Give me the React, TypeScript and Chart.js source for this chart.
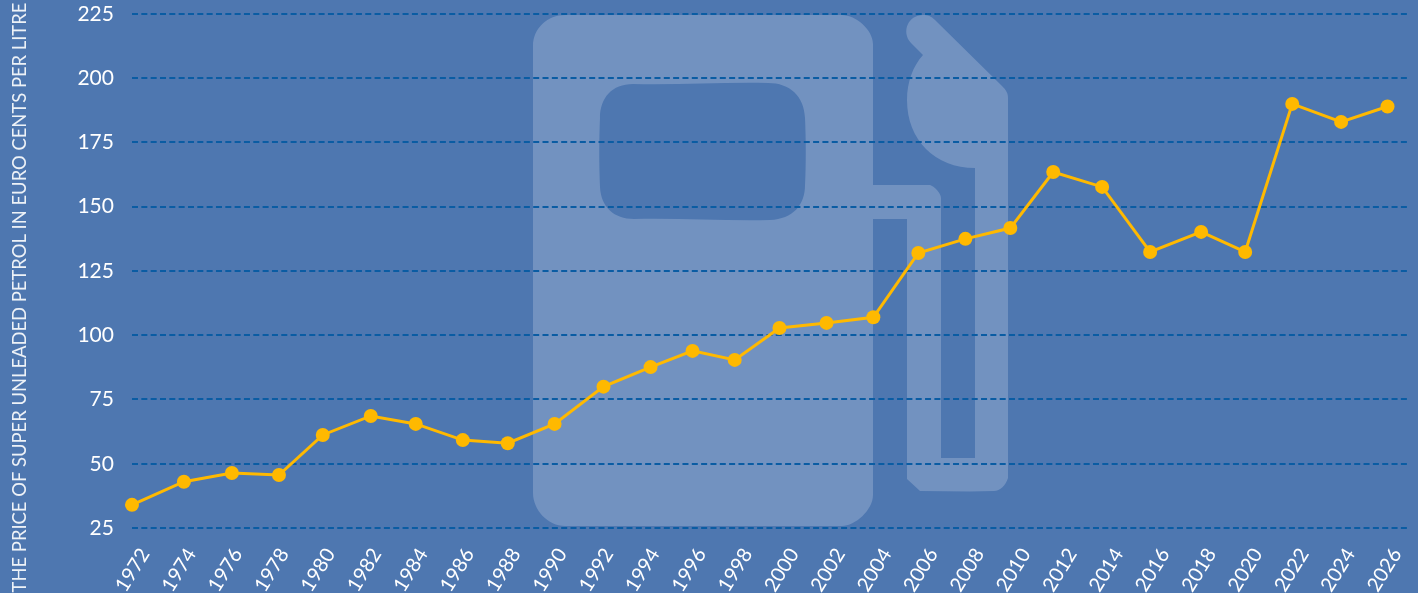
import React, { useEffect, useRef } from "react";
import { Chart, registerables } from "chart.js";

Chart.register(...registerables);

const xValues = [1972, 1974.24, 1976.31, 1978.34, 1980.23, 1982.3, 1984.24, 1986.27, 1988.21, 1990.23, 1992.34, 1994.37, 1996.18, 1998, 1999.93, 2001.96, 2003.98, 2005.92, 2007.95, 2009.89, 2011.74, 2013.85, 2015.92, 2018.12, 2020.02, 2022.05, 2024.16, 2026.16];
const values = [34, 43, 46.4, 45.6, 61.2, 68.6, 65.5, 59.2, 58, 65.5, 80, 87.6, 93.9, 90.4, 102.8, 104.8, 107, 132, 137.5, 141.7, 163.5, 157.7, 132.4, 140.2, 132.4, 190, 183, 189];
const yTicks = [25, 50, 75, 100, 125, 150, 175, 200, 225];
const xTicks = [1972, 1974, 1976, 1978, 1980, 1982, 1984, 1986, 1988, 1990, 1992, 1994, 1996, 1998, 2000, 2002, 2004, 2006, 2008, 2010, 2012, 2014, 2016, 2018, 2020, 2022, 2024, 2026];
const titleText = "THE PRICE OF SUPER UNLEADED PETROL IN EURO CENTS PER LITRE";

const BG = "#4e77b0";
const ICON = "#7292c0";
const GRID = "#0a5ca3";
const LINE = "#ffb900";
const FONT = "Lato";

const pumpIcon = {
  id: "pumpIcon",
  afterLayout(chart: any) {
    if (chart.titleBlock) {
      chart.titleBlock.top = 0;
      chart.titleBlock.bottom = 595;
    }
  },
  beforeDraw(chart: any) {
    const c = chart.ctx;
    c.save();
    c.fillStyle = BG;
    c.fillRect(0, 0, chart.width, chart.height);
    c.fillStyle = ICON;
    c.beginPath();
    c.moveTo(533, 46);
    c.bezierCurveTo(533, 28, 548, 15, 565, 15);
    c.lineTo(842, 15);
    c.bezierCurveTo(856, 15, 873, 30, 873, 44);
    c.lineTo(873, 185);
    c.lineTo(930, 185);
    c.bezierCurveTo(934, 186, 941, 193, 941, 198);
    c.lineTo(941, 458);
    c.lineTo(975, 458);
    c.lineTo(975, 168);
    c.bezierCurveTo(935, 168, 907, 140, 907, 100);
    c.bezierCurveTo(907, 82, 913, 66, 923, 55);
    c.lineTo(911, 43);
    c.bezierCurveTo(901, 32, 908, 15, 923, 15);
    c.bezierCurveTo(928, 15, 931, 16, 935, 20);
    c.lineTo(1002, 86);
    c.bezierCurveTo(1006, 90, 1008, 93, 1008, 98);
    c.lineTo(1008, 478);
    c.bezierCurveTo(1006, 485, 1000, 491, 994, 491);
    c.bezierCurveTo(970, 492, 945, 491, 920, 491);
    c.lineTo(907, 479);
    c.lineTo(907, 219);
    c.lineTo(873, 219);
    c.lineTo(873, 495);
    c.bezierCurveTo(873, 510, 855, 526, 842, 526);
    c.lineTo(565, 526);
    c.bezierCurveTo(548, 526, 533, 510, 533, 493);
    c.closePath();
    c.moveTo(633, 84);
    c.bezierCurveTo(612, 84, 600, 98, 600, 118);
    c.bezierCurveTo(599, 140, 599, 165, 600, 187);
    c.bezierCurveTo(601, 207, 614, 219, 634, 219);
    c.bezierCurveTo(680, 218, 725, 221, 770, 220);
    c.bezierCurveTo(793, 219, 805, 205, 805, 185);
    c.bezierCurveTo(806, 165, 806, 140, 805, 118);
    c.bezierCurveTo(804, 96, 790, 83, 768, 83);
    c.bezierCurveTo(725, 82, 680, 85, 633, 84);
    c.closePath();
    c.fill("evenodd");
    c.restore();
  },
};

const zeroPadding = (s: any) => {
  s.paddingTop = 0;
  s.paddingBottom = 0;
  s.paddingLeft = 0;
  s.paddingRight = 0;
};

export default function App() {
  const ref = useRef<HTMLCanvasElement>(null);
  useEffect(() => {
    document.body.style.margin = "0";
    document.body.style.background = BG;
    const chart = new Chart(ref.current!, {
      type: "line",
      data: {
        datasets: [
          {
            data: xValues.map((x, i) => ({ x, y: values[i] })),
            borderColor: LINE,
            backgroundColor: LINE,
            borderWidth: 3,
            pointRadius: 7,
            pointHoverRadius: 7,
            pointBackgroundColor: LINE,
            pointBorderWidth: 0,
            tension: 0,
            clip: false,
          },
        ],
      },
      options: {
        animation: false,
        responsive: false,
        layout: { padding: { left: 0, right: 8, top: 0, bottom: 0 } },
        plugins: {
          legend: { display: false },
          tooltip: { enabled: false },
          title: {
            display: true,
            position: "left",
            text: titleText,
            color: "rgba(255,255,255,0.9)",
            font: { family: FONT, size: 18.4, weight: "normal" },
            padding: { top: 9, bottom: 0 },
          },
        },
        scales: {
          x: {
            type: "linear",
            min: 1972,
            max: 2027.13,
            afterBuildTicks: (s: any) => {
              s.ticks = xTicks.map((value) => ({ value }));
            },
            afterFit: (s: any) => {
              s.height = 65;
              zeroPadding(s);
            },
            grid: { display: false },
            border: { display: false },
            ticks: {
              autoSkip: false,
              minRotation: 58,
              maxRotation: 58,
              labelOffset: 13,
              padding: 8,
              color: "#ffffff",
              font: { family: FONT, size: 20 },
              callback: (v: any) => String(v),
            },
          },
          y: {
            min: 25,
            max: 227.7,
            afterBuildTicks: (s: any) => {
              s.ticks = yTicks.map((value) => ({ value }));
            },
            afterFit: (s: any) => {
              s.width = 100.9;
              zeroPadding(s);
            },
            grid: {
              color: GRID,
              lineWidth: 2,
              drawTicks: false,
            },
            border: { display: false, dash: [6, 3.33] },
            ticks: {
              padding: 18,
              color: "#ffffff",
              font: { family: FONT, size: 21 },
              callback: (v: any) => String(v),
            },
          },
        },
      },
      plugins: [pumpIcon],
    } as any);
    return () => chart.destroy();
  }, []);
  return (
    <div style={{ width: 1418, height: 593 }}>
      <canvas ref={ref} width={1418} height={593} style={{ display: "block" }} />
    </div>
  );
}
